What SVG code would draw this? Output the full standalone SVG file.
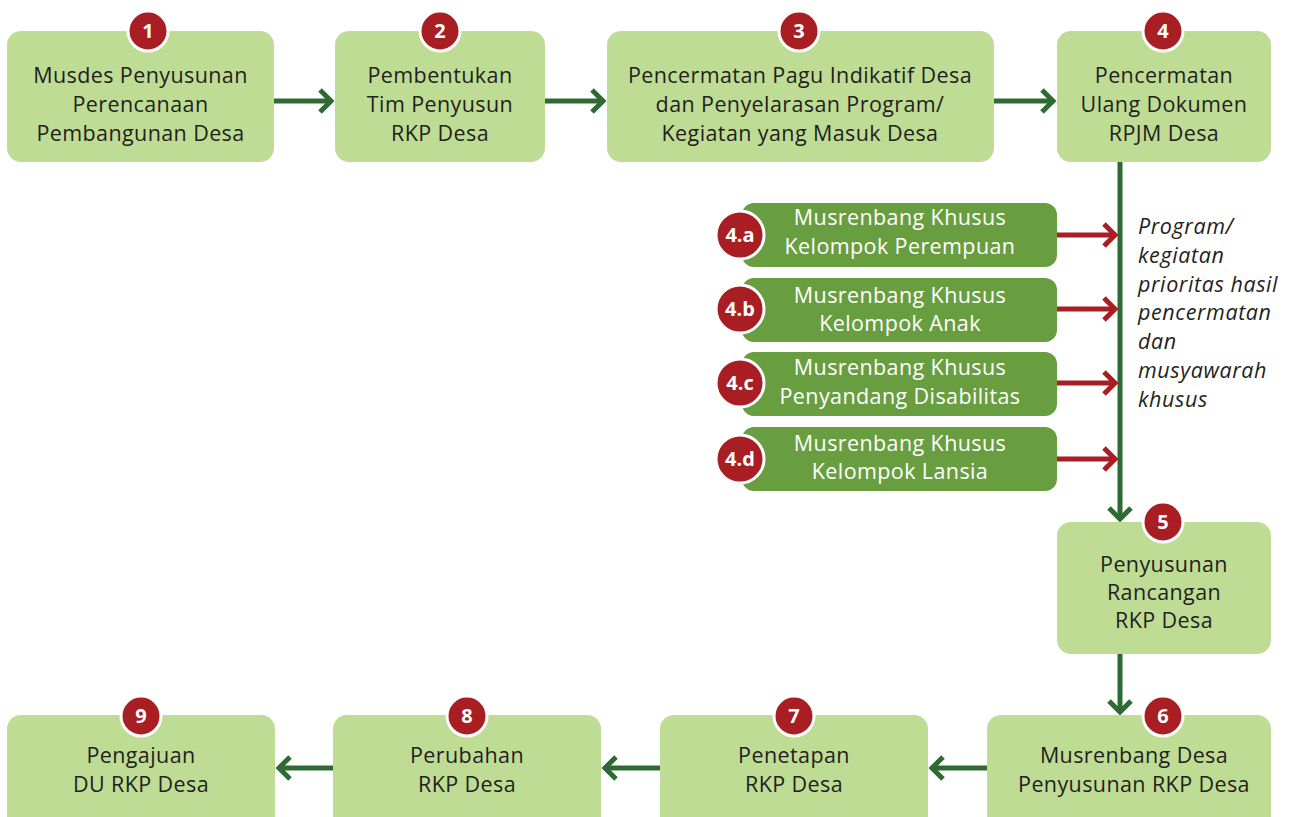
<svg xmlns="http://www.w3.org/2000/svg" width="1290" height="817" viewBox="0 0 1290 817">
<defs>
<style>
.box{fill:#bfdc94;}
.sub{fill:#699e40;}
.t{font-family:"Open Sans","Liberation Sans",sans-serif;font-size:21.5px;letter-spacing:0.4px;fill:#231f20;text-anchor:middle;}
.ts{font-family:"Open Sans","Liberation Sans",sans-serif;font-size:21.5px;letter-spacing:0.4px;fill:#ffffff;text-anchor:middle;}
.it{font-family:"Open Sans","Liberation Sans",sans-serif;font-size:21.5px;letter-spacing:0.6px;font-style:italic;fill:#231f20;}
.bd{fill:#a81e23;stroke:#ffffff;stroke-width:3;}
.bn{font-family:"Open Sans","Liberation Sans",sans-serif;font-size:20px;font-weight:bold;fill:#ffffff;text-anchor:middle;}
.g{stroke:#2f6a33;stroke-width:5;fill:none;}
.r{stroke:#a81e23;stroke-width:5;fill:none;}
</style>
<marker id="ag" markerUnits="userSpaceOnUse" markerWidth="20" markerHeight="30" refX="15" refY="15" orient="auto" viewBox="0 0 20 30">
<path d="M3,4 L14,15 L3,26" fill="none" stroke="#2f6a33" stroke-width="5"/>
</marker>
<marker id="ar" markerUnits="userSpaceOnUse" markerWidth="20" markerHeight="30" refX="15" refY="15" orient="auto" viewBox="0 0 20 30">
<path d="M3,4 L14,15 L3,26" fill="none" stroke="#a81e23" stroke-width="5"/>
</marker>
</defs>
<rect width="1290" height="817" fill="#ffffff"/>
<g id="connectors">
<line class="g" x1="274" y1="101" x2="332" y2="101" marker-end="url(#ag)"/>
<line class="g" x1="545" y1="101" x2="604" y2="101" marker-end="url(#ag)"/>
<line class="g" x1="994" y1="101" x2="1054" y2="101" marker-end="url(#ag)"/>
<line class="g" x1="1120" y1="162" x2="1120" y2="520" marker-end="url(#ag)"/>
<line class="g" x1="1120" y1="654" x2="1120" y2="713" marker-end="url(#ag)"/>
<line class="g" x1="987" y1="768" x2="931" y2="768" marker-end="url(#ag)"/>
<line class="g" x1="660" y1="768" x2="604" y2="768" marker-end="url(#ag)"/>
<line class="g" x1="333" y1="768" x2="278" y2="768" marker-end="url(#ag)"/>
<line class="r" x1="1057" y1="235" x2="1116" y2="235" marker-end="url(#ar)"/>
<line class="r" x1="1057" y1="309" x2="1116" y2="309" marker-end="url(#ar)"/>
<line class="r" x1="1057" y1="383" x2="1116" y2="383" marker-end="url(#ar)"/>
<line class="r" x1="1057" y1="459" x2="1116" y2="459" marker-end="url(#ar)"/>
</g>
<g id="n1"><rect class="box" x="7" y="31" width="267" height="131" rx="14"/>
<text class="t" x="140.5" y="83">Musdes Penyusunan</text><text class="t" x="140.5" y="112">Perencanaan</text><text class="t" x="140.5" y="141">Pembangunan Desa</text>
<circle class="bd" cx="148" cy="31" r="20"/><text class="bn" x="148" y="38">1</text></g>
<g id="n2"><rect class="box" x="335" y="31" width="210" height="131" rx="14"/>
<text class="t" x="440" y="83">Pembentukan</text><text class="t" x="440" y="112">Tim Penyusun</text><text class="t" x="440" y="141">RKP Desa</text>
<circle class="bd" cx="440" cy="31" r="20"/><text class="bn" x="440" y="38">2</text></g>
<g id="n3"><rect class="box" x="607" y="31" width="387" height="131" rx="14"/>
<text class="t" x="800" y="83">Pencermatan Pagu Indikatif Desa</text><text class="t" x="800" y="112">dan Penyelarasan Program/</text><text class="t" x="800" y="141">Kegiatan yang Masuk Desa</text>
<circle class="bd" cx="799" cy="31" r="20"/><text class="bn" x="799" y="38">3</text></g>
<g id="n4"><rect class="box" x="1057" y="31" width="214" height="131" rx="14"/>
<text class="t" x="1164" y="83">Pencermatan</text><text class="t" x="1164" y="112">Ulang Dokumen</text><text class="t" x="1164" y="141">RPJM Desa</text>
<circle class="bd" cx="1163" cy="31" r="20"/><text class="bn" x="1163" y="38">4</text></g>
<g id="n4a"><rect class="sub" x="742" y="203" width="315" height="64" rx="12"/>
<text class="ts" x="900" y="225">Musrenbang Khusus</text><text class="ts" x="900" y="254">Kelompok Perempuan</text>
<circle class="bd" cx="740" cy="235" r="24"/><text class="bn" x="740" y="242">4.a</text></g>
<g id="n4b"><rect class="sub" x="742" y="278" width="315" height="64" rx="12"/>
<text class="ts" x="900" y="303">Musrenbang Khusus</text><text class="ts" x="900" y="331">Kelompok Anak</text>
<circle class="bd" cx="740" cy="309" r="24"/><text class="bn" x="740" y="316">4.b</text></g>
<g id="n4c"><rect class="sub" x="742" y="352" width="315" height="64" rx="12"/>
<text class="ts" x="900" y="375">Musrenbang Khusus</text><text class="ts" x="900" y="404">Penyandang Disabilitas</text>
<circle class="bd" cx="740" cy="383" r="24"/><text class="bn" x="740" y="390">4.c</text></g>
<g id="n4d"><rect class="sub" x="742" y="427" width="315" height="64" rx="12"/>
<text class="ts" x="900" y="451">Musrenbang Khusus</text><text class="ts" x="900" y="479">Kelompok Lansia</text>
<circle class="bd" cx="740" cy="459" r="24"/><text class="bn" x="740" y="466">4.d</text></g>
<g id="note">
<text class="it" x="1138" y="234">Program/</text><text class="it" x="1138" y="263">kegiatan</text><text class="it" x="1138" y="292">prioritas hasil</text><text class="it" x="1138" y="320">pencermatan</text><text class="it" x="1138" y="349">dan</text><text class="it" x="1138" y="378">musyawarah</text><text class="it" x="1138" y="407">khusus</text>
</g>
<g id="n5"><rect class="box" x="1057" y="522" width="214" height="132" rx="14"/>
<text class="t" x="1164" y="572">Penyusunan</text><text class="t" x="1164" y="600">Rancangan</text><text class="t" x="1164" y="628">RKP Desa</text>
<circle class="bd" cx="1163" cy="522" r="20"/><text class="bn" x="1163" y="529">5</text></g>
<g id="n6"><rect class="box" x="987" y="715" width="284" height="120" rx="14"/>
<text class="t" x="1134" y="763">Musrenbang Desa</text><text class="t" x="1134" y="792">Penyusunan RKP Desa</text>
<circle class="bd" cx="1163" cy="716" r="20"/><text class="bn" x="1163" y="723">6</text></g>
<g id="n7"><rect class="box" x="660" y="715" width="268" height="120" rx="14"/>
<text class="t" x="794" y="763">Penetapan</text><text class="t" x="794" y="792">RKP Desa</text>
<circle class="bd" cx="794" cy="716" r="20"/><text class="bn" x="794" y="723">7</text></g>
<g id="n8"><rect class="box" x="333" y="715" width="268" height="120" rx="14"/>
<text class="t" x="467" y="763">Perubahan</text><text class="t" x="467" y="792">RKP Desa</text>
<circle class="bd" cx="467" cy="716" r="20"/><text class="bn" x="467" y="723">8</text></g>
<g id="n9"><rect class="box" x="7" y="715" width="268" height="120" rx="14"/>
<text class="t" x="141" y="763">Pengajuan</text><text class="t" x="141" y="792">DU RKP Desa</text>
<circle class="bd" cx="141" cy="716" r="20"/><text class="bn" x="141" y="723">9</text></g>
</svg>
